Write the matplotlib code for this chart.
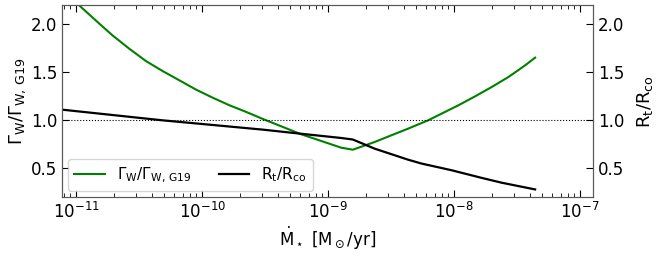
import matplotlib
matplotlib.use("Agg")
import matplotlib.pyplot as plt

# -----------------------------
#  Data
# -----------------------------
mdot_gamma = [1.05e-11, 1.43e-11, 1.94e-11, 2.63e-11, 3.57e-11, 4.84e-11,
              6.58e-11, 8.93e-11, 1.21e-10, 1.65e-10, 2.24e-10, 3.03e-10,
              6.1e-10, 1.27e-9, 1.57e-9, 2.34e-9, 3.18e-9, 4.31e-9,
              6.22e-9, 7.94e-9, 1.08e-8, 1.47e-8, 1.99e-8, 2.70e-8,
              3.67e-8, 4.40e-8]
gamma_ratio = [2.20, 2.04, 1.885, 1.747, 1.618, 1.514,
               1.417, 1.32, 1.236, 1.156, 1.087, 1.014,
               0.855, 0.715, 0.694, 0.774, 0.844, 0.913,
               1.00, 1.069, 1.156, 1.25, 1.347, 1.451,
               1.573, 1.653]

mdot_rt = [7.73e-12, 4.84e-11, 3.03e-10, 6.1e-10, 1.27e-9, 1.57e-9,
           2.34e-9, 4.31e-9, 5.5e-9, 9.55e-9, 1.66e-8, 2.39e-8, 4.40e-8]
rt_ratio = [1.111, 1.0, 0.903, 0.86, 0.816, 0.80,
            0.705, 0.59, 0.55, 0.48, 0.40, 0.35, 0.28]

yticks = [0.5, 1.0, 1.5, 2.0]

plt.rcParams['font.family'] = ['DejaVu Sans']
plt.rcParams['mathtext.fontset'] = 'dejavusans'

fig = plt.figure(figsize=(6.59, 2.56), dpi=100)
ax = fig.add_axes([0.094, 0.230, 0.806, 0.750])

ax.plot(mdot_gamma, gamma_ratio, color='green', lw=1.5,
        label=r'$\Gamma_{\rm W}/\Gamma_{\rm W,\,G19}$')
ax.plot(mdot_rt, rt_ratio, color='black', lw=1.6,
        label=r'$\rm R_t/R_{co}$')
ax.axhline(1.0, color='black', lw=0.8, ls=':')

ax.set_xscale('log')
ax.set_xlim(7.7e-12, 1.27e-7)
ax.set_ylim(0.2, 2.2)
ax.set_yticks(yticks)
ax.tick_params(which='both', direction='in', top=True, labelsize=12)
ax.tick_params(which='major', length=5)
ax.tick_params(which='minor', length=3)
ax.set_xlabel(r'$\dot{\rm M}_\star$ [M$_\odot$/yr]', fontsize=12, labelpad=2)
ax.set_ylabel(r'$\Gamma_{\rm W}/\Gamma_{\rm W,\,G19}$', fontsize=13,
              labelpad=2)

ax2 = ax.twinx()
ax2.set_ylim(0.2, 2.2)
ax2.set_yticks(yticks)
ax2.tick_params(direction='in', labelsize=12, length=5)
ax2.set_ylabel(r'$\rm R_t/R_{co}$', fontsize=13, labelpad=8)

for a in (ax, ax2):
    for s in a.spines.values():
        s.set_color('0.35')

ax.legend(loc='lower left', ncol=2, fontsize=11, handlelength=2.0,
          columnspacing=1.8, borderaxespad=0.4)

fig.savefig('out.png', dpi=100)
